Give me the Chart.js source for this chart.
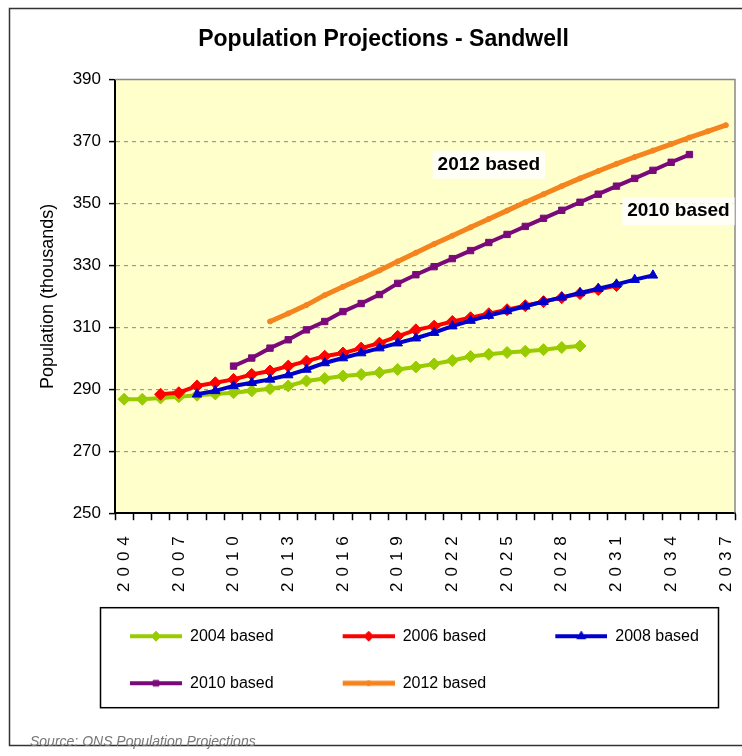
<!DOCTYPE html>
<html>
<head>
<meta charset="utf-8">
<script src="https://cdn.jsdelivr.net/npm/chart.js@4.4.1/dist/chart.umd.min.js"></script>
<style>
  html, body { margin: 0; padding: 0; background: #fff; }
  #chart_box { width: 742px; height: 756px; }
</style>
</head>
<body>
<div id="chart_box"><canvas id="population_chart" width="742" height="756"></canvas></div>
<script>
// categories on the x axis, one per year
const years = ['2004', '2005', '2006', '2007', '2008', '2009', '2010', '2011', '2012', '2013',
    '2014', '2015', '2016', '2017', '2018', '2019', '2020', '2021', '2022', '2023',
    '2024', '2025', '2026', '2027', '2028', '2029', '2030', '2031', '2032', '2033',
    '2034', '2035', '2036', '2037'];
// only every third year gets a label
const x_tick_labels = ['2004', '2007', '2010', '2013', '2016', '2019', '2022', '2025', '2028', '2031', '2034', '2037'];

// population in thousands, null where a projection does not cover the year
const based_2004 = [286.8, 286.8, 287.2, 287.6, 288.1, 288.5, 288.9, 289.5, 290.2, 291.1,
    292.7, 293.5, 294.3, 294.8, 295.4, 296.4, 297.2, 298.2, 299.3, 300.6,
    301.3, 301.9, 302.3, 302.8, 303.5, 304.0, null, null, null, null,
    null, null, null, null];
const based_2006 = [null, null, 288.4, 288.9, 291.1, 292.1, 293.2, 294.8, 295.9, 297.5,
    299.1, 300.7, 301.7, 303.3, 304.9, 307.1, 309.2, 310.4, 311.9, 313.1,
    314.4, 315.7, 317.0, 318.3, 319.6, 320.9, 322.2, 323.5, null, null,
    null, null, null, null];
const based_2008 = [null, null, null, null, 288.4, 289.5, 291.1, 292.1, 293.2, 294.6,
    296.4, 298.5, 300.1, 301.7, 303.3, 304.9, 306.5, 308.3, 310.4, 312.2,
    313.8, 315.3, 316.8, 318.3, 319.7, 321.1, 322.5, 323.9, 325.4, 326.8,
    null, null, null, null];
const based_2010 = [null, null, null, null, null, null, 297.5, 300.1, 303.3, 306.0,
    309.2, 311.9, 315.1, 317.7, 320.6, 324.2, 327.0, 329.6, 332.2, 334.8,
    337.4, 340.0, 342.6, 345.2, 347.8, 350.4, 353.0, 355.6, 358.1, 360.7,
    363.3, 365.8, null, null];
const based_2012 = [null, null, null, null, null, null, null, null, 311.9, 314.5,
    317.2, 320.4, 323.1, 325.7, 328.4, 331.3, 334.1, 336.9, 339.6, 342.3,
    345.0, 347.7, 350.4, 353.0, 355.6, 358.1, 360.5, 362.8, 365.0, 367.1,
    369.2, 371.3, 373.3, 375.3];

const y_min = 250;
const y_max = 390;
const y_step = 20;

const chart_title = 'Population Projections - Sandwell';
const y_title = 'Population (thousands)';
const source_text = 'Source: ONS Population Projections';

// text notes written inside the plot, placed on the chart scales
const series_notes = [
    { text: '2012 based', year: 2024, value: 362.5 },
    { text: '2010 based', year: 2034.4, value: 347.5 }
];

const green = '#99CC00';
const red = '#FF0000';
const blue = '#0000CC';
const purple = '#7A0A7A';
const orange = '#F5841F';

Chart.defaults.font.family = "'Liberation Sans', Arial, sans-serif";
Chart.defaults.color = '#000';

// small canvas with a line and a marker, used as the legend sample
function make_sample(color, point_style, radius, line_width){
    const c = document.createElement('canvas');
    c.width = 90;
    c.height = 18;
    const g = c.getContext('2d');
    g.strokeStyle = color;
    g.lineWidth = line_width;
    g.beginPath();
    g.moveTo(38, 9);
    g.lineTo(90, 9);
    g.stroke();
    g.fillStyle = color;
    g.lineWidth = 1;
    Chart.helpers.drawPoint(g, { pointStyle: point_style, radius: radius, rotation: 0, borderWidth: 1 }, 64, 9);
    return c;
}

const legend_samples = [
    make_sample(green, 'rectRot', 5, 4),
    make_sample(red, 'rectRot', 5, 4),
    make_sample(blue, 'triangle', 5, 4),
    make_sample(purple, 'rect', 4, 4),
    make_sample(orange, 'circle', 2.5, 5)
];

const frame_plugin = {
    id: 'frame_plugin',
    afterLayout(chart) {
        // put the first legend item under the plot like in the original
        chart.legend.left = 61;
        chart.legend.right = 740;
    },
    beforeDraw(chart) {
        const ctx = chart.ctx;
        const area = chart.chartArea;
        ctx.save();
        ctx.fillStyle = '#ffffff';
        ctx.fillRect(0, 0, chart.width, chart.height);
        ctx.strokeStyle = '#333';
        ctx.lineWidth = 1.5;
        ctx.strokeRect(9.5, 8.5, chart.width + 10, 737);
        ctx.fillStyle = '#FFFFCC';
        ctx.fillRect(area.left, area.top, area.right - area.left, area.bottom - area.top);
        ctx.restore();
    },
    afterDatasetsDraw(chart) {
        // the x tick labels come after this (ticks.z = 1), spaced out like the original
        chart.ctx.letterSpacing = '6px';
    },
    afterDraw(chart) {
        const ctx = chart.ctx;
        ctx.letterSpacing = '0px';
        const area = chart.chartArea;
        ctx.save();
        // grey border on top and right of the plot
        ctx.strokeStyle = '#888';
        ctx.lineWidth = 1.5;
        ctx.beginPath();
        ctx.moveTo(area.left, area.top);
        ctx.lineTo(area.right, area.top);
        ctx.lineTo(area.right, area.bottom);
        ctx.stroke();
        // box round the legend
        const lg = chart.legend;
        ctx.strokeStyle = '#000';
        ctx.lineWidth = 1.5;
        ctx.strokeRect(100.5, lg.top + 10.5, 618, 100);
        // notes
        ctx.font = "bold 19px 'Liberation Sans', Arial, sans-serif";
        ctx.textAlign = 'center';
        ctx.textBaseline = 'middle';
        series_notes.forEach(note => {
            const x = chart.scales.x.getPixelForValue(note.year - Number(years[0]));
            const y = chart.scales.y.getPixelForValue(note.value);
            const w = ctx.measureText(note.text).width;
            ctx.fillStyle = 'rgba(255,255,255,0.85)';
            ctx.fillRect(x - w / 2 - 5, y - 14, w + 10, 28);
            ctx.fillStyle = '#000';
            ctx.fillText(note.text, x, y);
        });
        ctx.restore();
    }
};

function series(label, data, color, point_style, radius, width, order){
    return {
        label: label,
        data: data,
        borderColor: color,
        backgroundColor: color,
        borderWidth: width,
        pointStyle: point_style,
        pointRadius: radius,
        pointBorderWidth: 1,
        pointBorderColor: color,
        pointBackgroundColor: color,
        tension: 0,
        order: order
    };
}

const population_chart = new Chart(document.getElementById('population_chart').getContext('2d'), {
    type: 'line',
    data: {
        labels: years,
        datasets: [
            series('2004 based', based_2004, green, 'rectRot', 6, 4, 5),
            series('2006 based', based_2006, red, 'rectRot', 6, 4, 4),
            series('2008 based', based_2008, blue, 'triangle', 5.5, 4, 3),
            series('2010 based', based_2010, purple, 'rect', 4.5, 4, 2),
            series('2012 based', based_2012, orange, 'circle', 2.5, 5, 1)
        ]
    },
    options: {
        responsive: false,
        devicePixelRatio: 1,
        animation: false,
        events: [],
        layout: {
            padding: { left: 30, right: 5, top: 8, bottom: 4 }
        },
        scales: {
            x: {
                offset: true,
                afterFit: (scale) => {
                    scale.height = 84;
                    // rotated labels need no room at the sides
                    scale.paddingLeft = 0;
                    scale.paddingRight = 0;
                },
                grid: {
                    offset: true,
                    drawOnChartArea: false,
                    tickLength: 7,
                    tickColor: '#000',
                    tickWidth: 1.5
                },
                border: { display: true, color: '#000', width: 2 },
                ticks: {
                    z: 1,
                    autoSkip: false,
                    maxRotation: 90,
                    minRotation: 90,
                    padding: 10,
                    color: '#000',
                    font: { size: 17 },
                    callback: function(value){
                        const label = this.getLabelForValue(value);
                        return x_tick_labels.includes(label) ? label : '';
                    }
                }
            },
            y: {
                min: y_min,
                max: y_max,
                afterFit: (scale) => { scale.width = 85; },
                grid: {
                    color: (c) => (c.tick && (c.tick.value === y_min || c.tick.value === y_max)) ? 'rgba(0,0,0,0)' : '#9a9a9a',
                    lineWidth: 1.2,
                    tickLength: 6,
                    tickColor: '#000',
                    tickWidth: 1.5
                },
                border: { display: true, color: '#000', width: 2, dash: [4, 4] },
                ticks: {
                    stepSize: y_step,
                    padding: 8,
                    color: '#000',
                    font: { size: 17 }
                },
                title: {
                    display: true,
                    text: y_title,
                    color: '#000',
                    font: { size: 18 },
                    padding: { top: 7, bottom: 0 }
                }
            }
        },
        plugins: {
            title: {
                display: true,
                text: chart_title,
                color: '#000',
                font: { size: 23, weight: 'bold' },
                padding: { top: 18, bottom: 26 }
            },
            subtitle: {
                display: true,
                text: source_text,
                position: 'bottom',
                align: 'start',
                color: '#777',
                font: { size: 14, style: 'italic' },
                padding: { top: 33, bottom: 1 }
            },
            legend: {
                position: 'bottom',
                align: 'start',
                labels: {
                    usePointStyle: true,
                    pointStyleWidth: 90,
                    padding: 31,
                    color: '#000',
                    font: { size: 16 },
                    sort: (a, b) => a.datasetIndex - b.datasetIndex,
                    generateLabels(chart) {
                        const items = Chart.defaults.plugins.legend.labels.generateLabels(chart);
                        items.forEach(item => { item.pointStyle = legend_samples[item.datasetIndex]; });
                        return items;
                    }
                }
            },
            tooltip: { enabled: false }
        }
    },
    plugins: [frame_plugin]
});
</script>
</body>
</html>
